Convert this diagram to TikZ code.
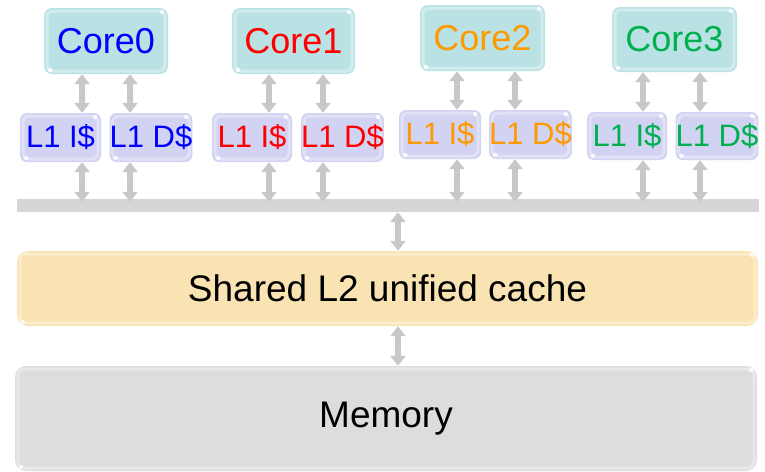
\documentclass[tikz,border=0pt]{standalone}
\usepackage{fontspec}
\setmainfont{Liberation Sans}
\usetikzlibrary{arrows.meta}

\definecolor{corefill}{RGB}{186,226,228}
\definecolor{lonefill}{RGB}{210,210,242}
\definecolor{ltwofill}{RGB}{250,227,178}
\definecolor{memfill}{RGB}{221,221,221}
\definecolor{busfill}{RGB}{214,214,214}
\definecolor{linkgray}{RGB}{200,200,200}
\definecolor{cblue}{RGB}{0,0,255}
\definecolor{cred}{RGB}{255,0,0}
\definecolor{corange}{RGB}{255,153,0}
\definecolor{cgreen}{RGB}{0,176,80}

\tikzset{
  gloss/.style={
    path picture={
      \draw[white,opacity=0.35,line width=3pt,rounded corners=6pt]
        ([shift={(3pt,-3pt)}]path picture bounding box.north west) rectangle
        ([shift={(-3pt,3pt)}]path picture bounding box.south east);
      \fill[white,opacity=0.85]
        ([shift={(-6pt,-4pt)}]path picture bounding box.north east) circle[x radius=2.5pt,y radius=2pt];
      \fill[white,opacity=0.85]
        ([shift={(6pt,4pt)}]path picture bounding box.south west) circle[x radius=2.5pt,y radius=2pt];
    }},
  box/.style={rounded corners=8pt, inner sep=0pt, gloss},
  corebox/.style={box, fill=corefill, font=\fontsize{36}{36}\selectfont},
  lonebox/.style={box, rounded corners=7pt, fill=lonefill, font=\fontsize{31}{31}\selectfont},
  bigbox/.style={box, rounded corners=11pt, font=\fontsize{37}{37}\selectfont},
  link/.style={draw=linkgray, line width=6pt,
    {Triangle[width=15pt,length=10pt]}-{Triangle[width=15pt,length=10pt]}},
}

\begin{document}
\begin{tikzpicture}[x=1pt,y=-1pt]
\useasboundingbox (0,0) rectangle (765,471);

% cores
\node[corebox, minimum width=124pt, minimum height=66pt, text=cblue]   (c0) at (106,41)   {Core0};
\node[corebox, minimum width=123pt, minimum height=66pt, text=cred]    (c1) at (293.5,41) {Core1};
\node[corebox, minimum width=125pt, minimum height=66pt, text=corange] (c2) at (482.5,38) {Core2};
\node[corebox, minimum width=125pt, minimum height=65pt, text=cgreen]  (c3) at (674.5,39.5) {Core3};

% private L1 caches
\node[lonebox, minimum width=81pt, minimum height=49pt, text=cblue]   (i0) at (60.5,137.5) {L1 I\$};
\node[lonebox, minimum width=80pt, minimum height=49pt, text=cblue]   (d0) at (151,137.5)  {L1 D\$};
\node[lonebox, minimum width=80pt, minimum height=49pt, text=cred]    (i1) at (252,137.5)  {L1 I\$};
\node[lonebox, minimum width=81pt, minimum height=49pt, text=cred]    (d1) at (342.5,137.5) {L1 D\$};
\node[lonebox, minimum width=82pt, minimum height=49pt, text=corange] (i2) at (440,134.5)  {L1 I\$};
\node[lonebox, minimum width=81pt, minimum height=49pt, text=corange] (d2) at (530.5,134.5) {L1 D\$};
\node[lonebox, minimum width=80pt, minimum height=48pt, text=cgreen]  (i3) at (627,136)    {L1 I\$};
\node[lonebox, minimum width=82pt, minimum height=48pt, text=cgreen]  (d3) at (717,136)    {L1 D\$};

% shared bus
\node[fill=busfill, inner sep=0pt, minimum width=742pt, minimum height=13pt] (bus) at (388,205.5) {};

% shared L2 and memory
\node[bigbox, fill=ltwofill, minimum width=741pt, minimum height=75pt] (l2) at (387.5,288.5) {Shared L2 unified cache};
\node[bigbox, fill=memfill, minimum width=742pt, minimum height=105pt] (mem) at (386,418.5) {Memory};

% core <-> L1 links
\draw[link] (c0.south -| 82,0)  -- (i0.north -| 82,0);
\draw[link] (c0.south -| 130,0) -- (d0.north -| 130,0);
\draw[link] (c1.south -| 269,0) -- (i1.north -| 269,0);
\draw[link] (c1.south -| 323,0) -- (d1.north -| 323,0);
\draw[link] (c2.south -| 457,0) -- (i2.north -| 457,0);
\draw[link] (c2.south -| 515,0) -- (d2.north -| 515,0);
\draw[link] (c3.south -| 643,0) -- (i3.north -| 643,0);
\draw[link] (c3.south -| 700,0) -- (d3.north -| 700,0);

% L1 <-> bus links
\draw[link] (i0.south -| 82,0)  -- ([yshift=-3pt]bus.north -| 82,0);
\draw[link] (d0.south -| 130,0) -- ([yshift=-3pt]bus.north -| 130,0);
\draw[link] (i1.south -| 269,0) -- ([yshift=-3pt]bus.north -| 269,0);
\draw[link] (d1.south -| 323,0) -- ([yshift=-3pt]bus.north -| 323,0);
\draw[link] (i2.south -| 457,0) -- ([yshift=-3pt]bus.north -| 457,0);
\draw[link] (d2.south -| 515,0) -- ([yshift=-3pt]bus.north -| 515,0);
\draw[link] (i3.south -| 643,0) -- ([yshift=-3pt]bus.north -| 643,0);
\draw[link] (d3.south -| 700,0) -- ([yshift=-3pt]bus.north -| 700,0);

% bus <-> L2 <-> memory
\draw[link] (bus.south -| 398,0) -- (l2.north -| 398,0);
\draw[link] (l2.south -| 398,0)  -- (mem.north -| 398,0);
\end{tikzpicture}
\end{document}
